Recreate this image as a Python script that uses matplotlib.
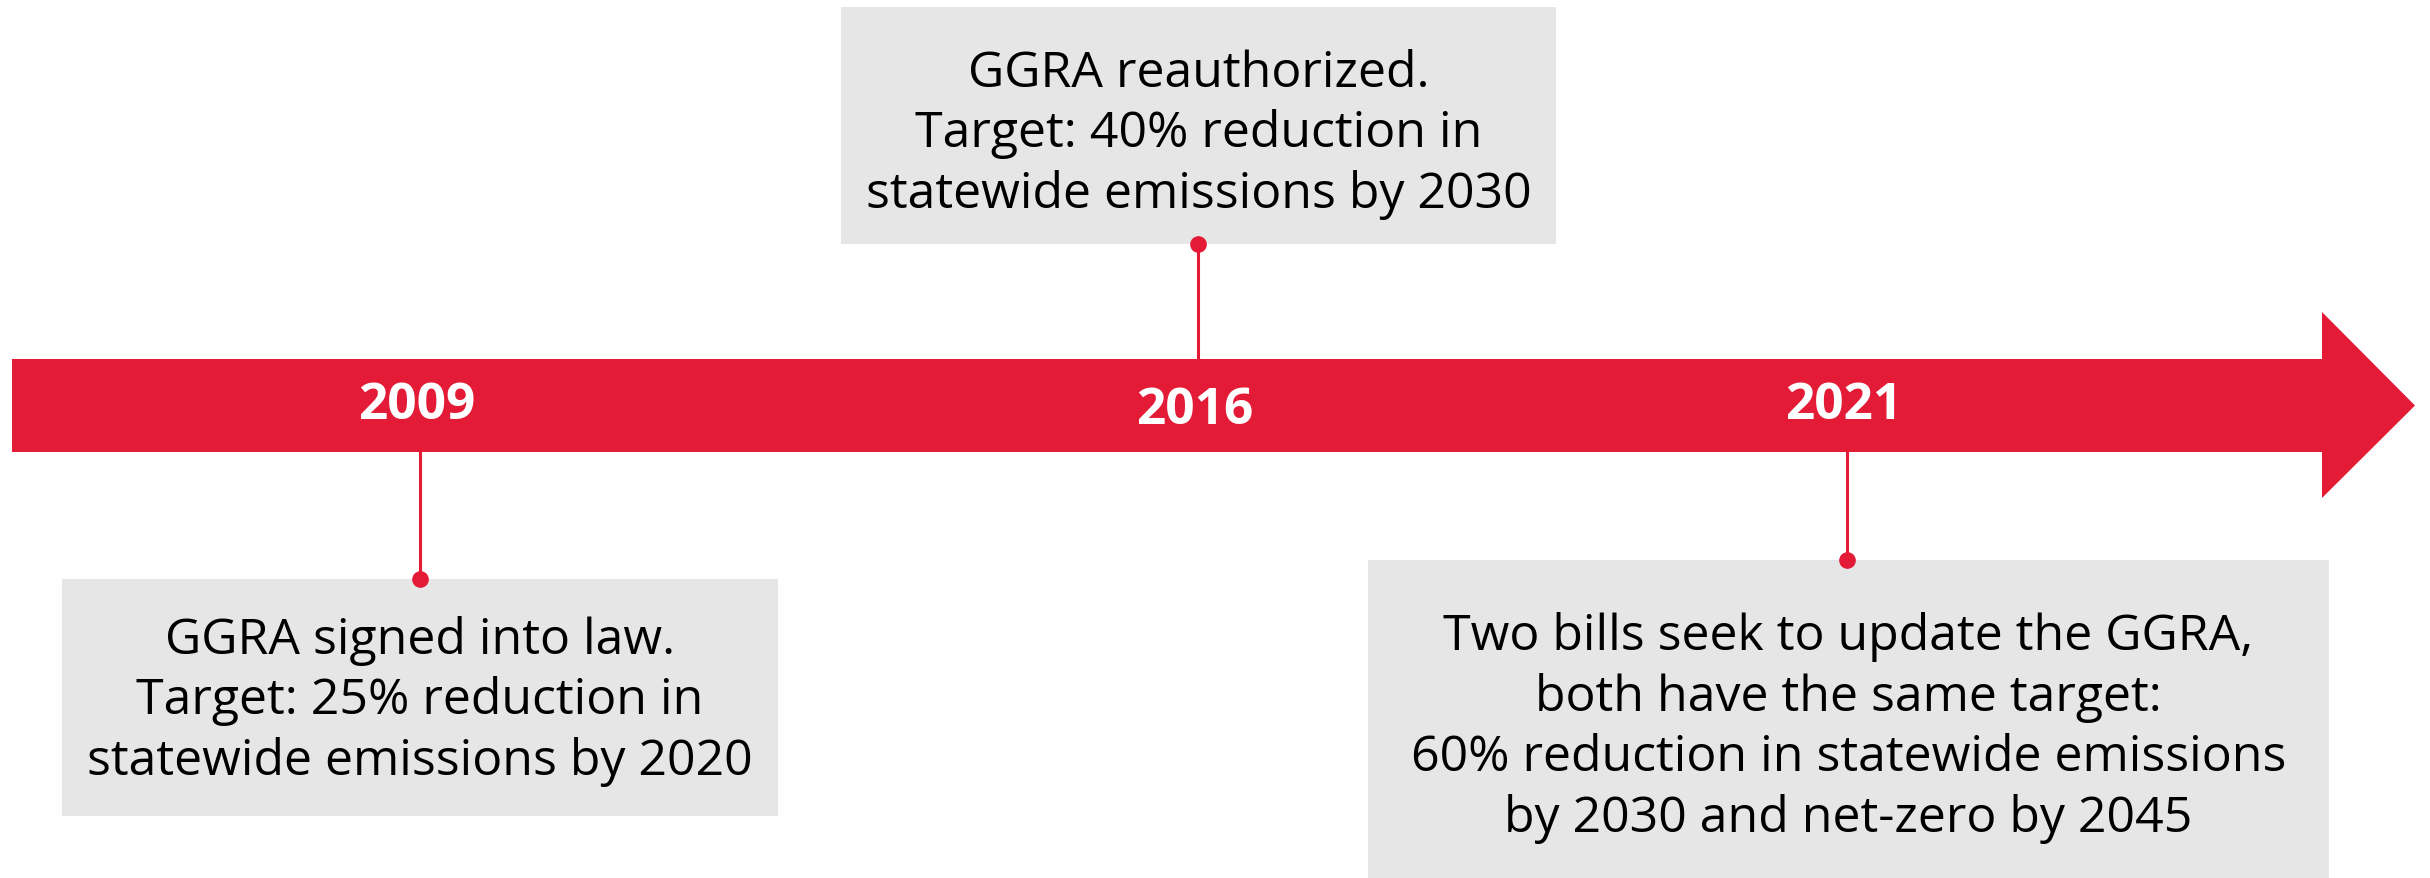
import matplotlib.pyplot as plt
from matplotlib.patches import Polygon, Rectangle

# Timeline events
years = ["2009", "2016", "2021"]
notes = [
    "GGRA signed into law.\nTarget: 25% reduction in\nstatewide emissions by 2020",
    "GGRA reauthorized.\nTarget: 40% reduction in\nstatewide emissions by 2030",
    "Two bills seek to update the GGRA,\nboth have the same target:\n60% reduction in statewide emissions\nby 2030 and net-zero by 2045",
]
sides = ["below", "above", "below"]

# Layout (pixel space of the 2430x879 canvas)
event_x = [420, 1198, 1847]
label_dy = [0, 5, 0]
text_dy = [3, 8, 8]
boxes = [(62, 580, 716, 237), (841, 8, 715, 237), (1368, 561, 961, 318)]

RED = "#E31B37"
GREY = "#E6E6E6"
plt.rcParams["font.family"] = ["Open Sans", "DejaVu Sans"]

fig = plt.figure(figsize=(24.3, 8.79), dpi=100)
ax = fig.add_axes([0, 0, 1, 1])
ax.set_xlim(0, 2430)
ax.set_ylim(879, 0)
ax.axis("off")

# Arrow band
band_top, band_bot = 360, 453
head_x, tip_x = 2322, 2415
head_top, head_bot = 313, 499
mid = (band_top + band_bot) / 2
arrow = Polygon([(12, band_top), (head_x, band_top), (head_x, head_top), (tip_x, mid),
                 (head_x, head_bot), (head_x, band_bot), (12, band_bot)],
                closed=True, facecolor=RED, edgecolor="none")
ax.add_patch(arrow)

for yr, note, side, x, dy, tdy, (bx, by, bw, bh) in zip(years, notes, sides, event_x,
                                                        label_dy, text_dy, boxes):
    ax.add_patch(Rectangle((bx, by), bw, bh, facecolor=GREY, edgecolor="none"))
    if side == "below":
        y0, y1 = band_bot, by
    else:
        y0, y1 = by + bh, band_top
    ax.plot([x, x], [y0, y1], color=RED, lw=2.2, zorder=3)
    dot_y = y1 if side == "below" else y0
    ax.plot(x, dot_y, "o", color=RED, ms=11, zorder=4)
    ax.text(x - 3, mid + dy, yr, color="white", fontsize=37, fontweight="bold",
            ha="center", va="center")
    ax.text(bx + bw / 2, by + bh / 2 + tdy, note, color="black", fontsize=36,
            ha="center", va="center", linespacing=1.28)

fig.savefig("out.png", dpi=100)
